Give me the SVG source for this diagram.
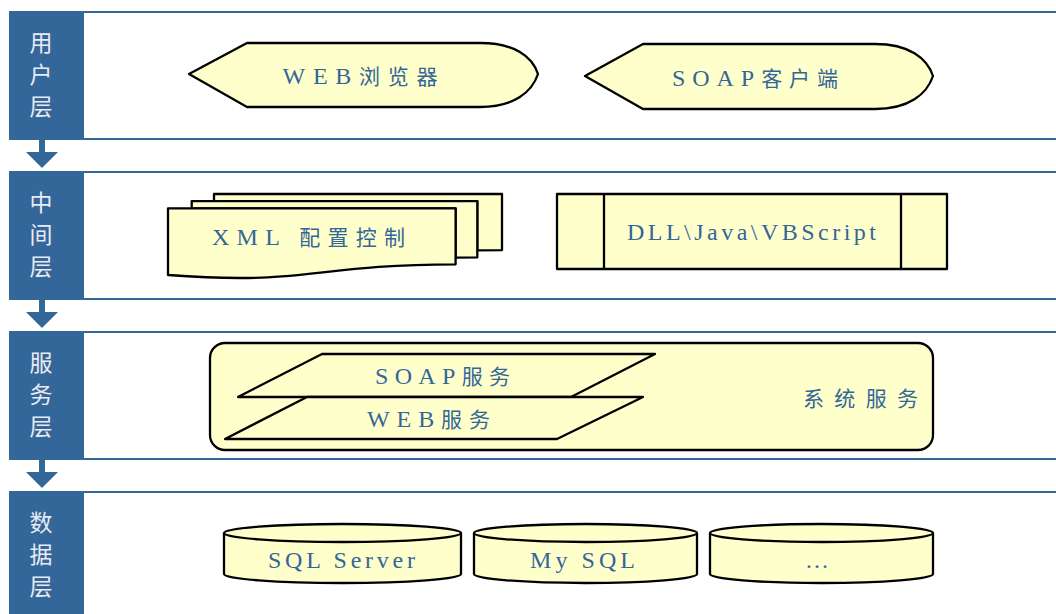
<svg xmlns="http://www.w3.org/2000/svg" width="1056" height="614" viewBox="0 0 1056 614">
<style>
.blk{fill:#336699}
.pnl{fill:#ffffff;stroke:#336699;stroke-width:2}
.lbl{font-family:"Noto Sans CJK SC","Liberation Sans",sans-serif;font-size:23px;fill:#e8ebf2;text-anchor:middle}
.shp{fill:#ffffcc;stroke:#000000;stroke-width:2.3;stroke-linejoin:round}
.ln{fill:none;stroke:#000000;stroke-width:2.3}
.t{font-family:"Liberation Serif","Noto Sans CJK SC",serif;font-size:24px;fill:#336699;text-anchor:middle}
.c{font-family:"Noto Sans CJK SC",sans-serif;font-size:21px}
.arr{fill:#336699}
</style>
<rect width="1056" height="614" fill="#ffffff"/>
<g id="layer-user">
<rect class="pnl" x="83" y="12" width="1000" height="127"/>
<rect class="blk" x="9" y="11" width="73" height="129"/>
<text class="lbl" x="41" y="51">用</text>
<text class="lbl" x="41" y="83">户</text>
<text class="lbl" x="41" y="115">层</text>
</g>
<g id="layer-middle">
<rect class="pnl" x="83" y="172" width="1000" height="127"/>
<rect class="blk" x="9" y="171" width="73" height="129"/>
<text class="lbl" x="41" y="211">中</text>
<text class="lbl" x="41" y="243">间</text>
<text class="lbl" x="41" y="275">层</text>
</g>
<g id="layer-service">
<rect class="pnl" x="83" y="332" width="1000" height="127"/>
<rect class="blk" x="9" y="331" width="73" height="129"/>
<text class="lbl" x="41" y="371">服</text>
<text class="lbl" x="41" y="403">务</text>
<text class="lbl" x="41" y="435">层</text>
</g>
<g id="layer-data">
<rect class="pnl" x="83" y="492" width="1000" height="127"/>
<rect class="blk" x="9" y="491" width="73" height="129"/>
<text class="lbl" x="41" y="531">数</text>
<text class="lbl" x="41" y="563">据</text>
<text class="lbl" x="41" y="595">层</text>
</g>
<g id="connectors">
<rect class="arr" x="39" y="139" width="6" height="14"/>
<polygon class="arr" points="26,152 58,152 42,168"/>
<rect class="arr" x="39" y="299" width="6" height="14"/>
<polygon class="arr" points="26,312 58,312 42,328"/>
<rect class="arr" x="39" y="459" width="6" height="14"/>
<polygon class="arr" points="26,472 58,472 42,488"/>
</g>
<g id="web-browser">
<path class="shp" d="M189,74 L247,43 L480,43 C514,43 532,56 538,74 C532,92 514,107 480,107 L247,107 Z"/>
<text class="t" x="360" y="83.5" textLength="155" lengthAdjust="spacing">WEB<tspan class="c">浏览器</tspan></text>
</g>
<g id="soap-client">
<path class="shp" d="M585,76 L643,44 L875,44 C909,44 927,58 933,76 C927,94 909,109 875,109 L643,109 Z"/>
<text class="t" x="755" y="85.5" textLength="166" lengthAdjust="spacing">SOAP<tspan class="c">客户端</tspan></text>
</g>
<g id="xml-config">
<path class="shp" d="M214,201.1 L214,194 L502,194 L502,250.1 C489.7,250.1 477.3,250.4 477.3,250.4 L477.3,201.1 Z"/>
<path class="shp" d="M191.7,208.3 L191.7,201.1 L477.3,201.1 L477.3,257.4 C466.4,257.4 455.6,257.7 455.6,257.7 L455.6,208.3 Z"/>
<path class="shp" d="M168,275 C311.8,285.8 311.8,264.3 455.6,264.3 L455.6,208.3 L168,208.3 Z"/>
<text class="t" x="308.5" y="245" textLength="193" lengthAdjust="spacing">XML <tspan class="c">配置控制</tspan></text>
</g>
<g id="dll-java-vbscript">
<rect class="shp" x="557" y="194" width="390" height="75"/>
<line class="ln" x1="604" y1="194" x2="604" y2="269"/>
<line class="ln" x1="901" y1="194" x2="901" y2="269"/>
<text class="t" x="751.5" y="240" textLength="249" lengthAdjust="spacing">DLL\Java\VBScript</text>
</g>
<g id="system-service">
<rect class="shp" x="210" y="343" width="723" height="107" rx="15" ry="15"/>
<text class="t" x="860.5" y="406" textLength="115" lengthAdjust="spacing"><tspan class="c">系统服务</tspan></text>
</g>
<g id="soap-service">
<path class="shp" d="M238,397 L322,354 L655,354 L571,397 Z"/>
<text class="t" x="442.5" y="384" textLength="135" lengthAdjust="spacing">SOAP<tspan class="c">服务</tspan></text>
</g>
<g id="web-service">
<path class="shp" d="M225,439 L307,397 L643,397 L557,439 Z"/>
<text class="t" x="428.5" y="426.5" textLength="123" lengthAdjust="spacing">WEB<tspan class="c">服务</tspan></text>
</g>
<g id="sql-server">
<path class="shp" d="M224,533 A118.5,9 0 0 1 461,533 V574 A118.5,9 0 0 1 224,574 Z"/>
<path class="ln" d="M224,533 A118.5,9 0 0 0 461,533"/>
<text class="t" x="341.5" y="567.5" textLength="147" lengthAdjust="spacing">SQL Server</text>
</g>
<g id="mysql">
<path class="shp" d="M474,533 A111.5,9 0 0 1 697,533 V574 A111.5,9 0 0 1 474,574 Z"/>
<path class="ln" d="M474,533 A111.5,9 0 0 0 697,533"/>
<text class="t" x="582.5" y="567.5" textLength="105" lengthAdjust="spacing">My SQL</text>
</g>
<g id="other-db">
<path class="shp" d="M710,533 A111.5,9 0 0 1 933,533 V574 A111.5,9 0 0 1 710,574 Z"/>
<path class="ln" d="M710,533 A111.5,9 0 0 0 933,533"/>
<text class="t" x="817" y="567.5">…</text>
</g>
</svg>
